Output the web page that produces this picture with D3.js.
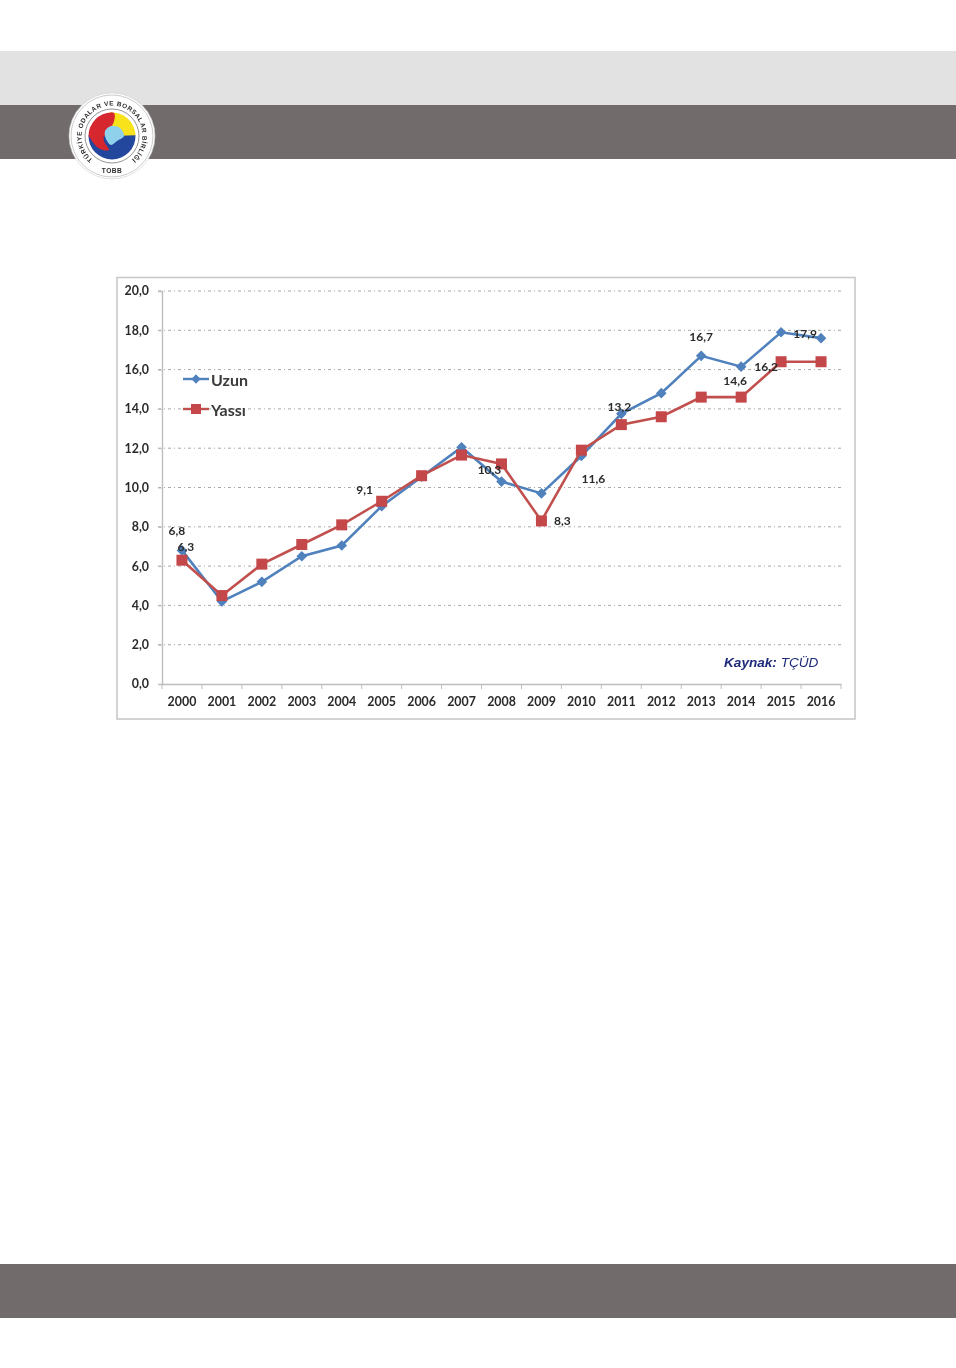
<!DOCTYPE html>
<html><head><meta charset="utf-8">
<script src="https://cdn.jsdelivr.net/npm/d3@7"></script>
<style>html,body{margin:0;padding:0;background:#fff}svg{display:block}</style>
</head><body><svg id="c" width="956" height="1368"></svg>
<script>
const years=[2000,2001,2002,2003,2004,2005,2006,2007,2008,2009,2010,2011,2012,2013,2014,2015,2016];
const uzun=[6.8,4.2,5.2,6.5,7.05,9.05,10.55,12.05,10.3,9.7,11.6,13.75,14.8,16.7,16.15,17.9,17.6];
const yassi=[6.3,4.5,6.1,7.1,8.1,9.3,10.6,11.65,11.2,8.3,11.9,13.2,13.6,14.6,14.6,16.4,16.4];
const yTicks=[0,2,4,6,8,10,12,14,16,18,20];
const seriesNames=["Uzun","Yassı"];
const labelYears=[2000,2000,2005,2008,2009,2010,2011,2013,2014,2014,2015];
const labelSeries=[0,1,0,0,1,0,1,0,1,0,0];
const labelTexts=["6,8","6,3","9,1","10,3","8,3","11,6","13,2","16,7","14,6","16,2","17,9"];
const source=["Kaynak:"," TÇÜD"];
const logoTop="TÜRKİYE ODALAR VE BORSALAR BİRLİĞİ";
const logoBottom="TOBB";

const svg=d3.select("#c");
const F="Lato, 'Open Sans', sans-serif";
const GREY="#716c6b";
svg.append("rect").attr("x",0).attr("y",51).attr("width",956).attr("height",54).attr("fill","#e3e2e3");
svg.append("rect").attr("x",0).attr("y",105).attr("width",956).attr("height",54).attr("fill",GREY);
svg.append("rect").attr("x",0).attr("y",1264).attr("width",956).attr("height",54).attr("fill",GREY);

const defs=svg.append("defs");
defs.append("filter").attr("id","soft").append("feGaussianBlur").attr("stdDeviation",0.45);

// logo
const lg=svg.append("g").attr("transform","translate(112,136)").attr("filter","url(#soft)");
lg.append("circle").attr("r",43).attr("fill","#fff").attr("stroke","#cfcfcf").attr("stroke-width",.6);
lg.append("circle").attr("r",41).attr("fill","none").attr("stroke","#999").attr("stroke-width",.5);
lg.append("circle").attr("r",27).attr("fill","none").attr("stroke","#666").attr("stroke-width",.7);
const arc=d3.arc();
const deg=Math.PI/180;
const sect=(r0,r1,a,b,col)=>lg.append("path").attr("d",arc({innerRadius:r0,outerRadius:r1,startAngle:a*deg,endAngle:b*deg})).attr("fill",col);
sect(0,23.5,-10,92,"#f8e21c");
sect(0,23.5,88,272,"#24479d");
sect(0,23.5,-92,0,"#d6252e");
lg.append("path").attr("d",d3.line().curve(d3.curveCatmullRomClosed)([[-23,-3],[-14,-18],[2,-23],[1,-12],[-7,-5],[-8,5],[-3,14],[-12,13],[-20,5]])).attr("fill","#d6252e");
lg.append("path").attr("d",d3.line().curve(d3.curveCatmullRomClosed)([[-1,-10],[8,-8],[12,0],[5,5],[-1,9],[-6,3],[-7,-5]])).attr("fill","#8fd0ea");
const arcPath=(r,a0,a1,sweep)=>{const p=a=>[r*Math.sin(a*deg),-r*Math.cos(a*deg)];const s=p(a0),e=p(a1);return `M${s}A${r},${r} 0 ${Math.abs(a1-a0)>180?1:0} ${sweep} ${e}`;};
lg.append("path").attr("id","lgTop").attr("fill","none").attr("d",arcPath(30.5,-140,140,1));
lg.append("text").attr("font-family","'Liberation Sans',sans-serif").attr("font-size",6.4).attr("font-weight",700).attr("fill","#2b2b2b").attr("letter-spacing",.55)
  .append("textPath").attr("href","#lgTop").attr("startOffset","50%").attr("text-anchor","middle").text(logoTop);
lg.append("text").attr("x",0).attr("y",37).attr("text-anchor","middle").attr("font-family","'Liberation Sans',sans-serif").attr("font-size",6.6).attr("font-weight",700).attr("fill","#2b2b2b").attr("letter-spacing",.5).text(logoBottom);

// chart
svg.append("rect").attr("x",117).attr("y",277.5).attr("width",738).attr("height",441.5).attr("fill","#fff").attr("stroke","#c9c9c9").attr("stroke-width",1.6);
const left=162,right=841,top0=291,bottom=684;
const x=d3.scaleBand().domain(years).range([left,right]);
const y=d3.scaleLinear().domain([0,20]).range([bottom,top0]);
const g=svg.append("g").attr("filter","url(#soft)");

g.append("g").selectAll("line").data(yTicks.filter(d=>d>0)).join("line")
 .attr("x1",left-4).attr("x2",right).attr("y1",d=>y(d)).attr("y2",d=>y(d))
 .attr("stroke","#a8a8a8").attr("stroke-width",1).attr("stroke-dasharray","3 3 1 3");

const yAxis=g.append("g").attr("transform",`translate(${left},0)`).call(d3.axisLeft(y).tickValues(yTicks).tickSize(4).tickPadding(9).tickFormat(d=>d3.format(".1f")(d).replace(".",",")));
const xAxis=g.append("g").attr("transform",`translate(0,${bottom})`).call(d3.axisBottom(x).tickSize(0).tickPadding(13));
for(const a of [yAxis,xAxis]){
  a.selectAll(".domain").attr("stroke","#bdbdbd").attr("stroke-width",1.4);
  a.selectAll("line").attr("stroke","#bdbdbd");
  a.selectAll("text").attr("font-family",F).attr("font-weight",700).attr("font-size",12.4).attr("fill","#2b2b2b");
}
xAxis.append("g").selectAll("line").data(years.concat(["end"])).join("line")
 .attr("x1",d=>d==="end"?right:x(d)).attr("x2",d=>d==="end"?right:x(d)).attr("y1",0).attr("y2",5).attr("stroke","#bdbdbd");

const BLUE="#4f81bd",RED="#c0504d";
const cx=d=>x(d)+x.bandwidth()/2;
const line=d3.line().x(d=>cx(d[0])).y(d=>y(d[1]));
const sU=years.map((d,i)=>[d,uzun[i]]), sY=years.map((d,i)=>[d,yassi[i]]);
g.append("path").attr("d",line(sU)).attr("fill","none").attr("stroke",BLUE).attr("stroke-width",2.6);
g.append("g").selectAll("path").data(sU).join("path")
 .attr("d",d3.symbol(d3.symbolDiamond2,72)).attr("transform",d=>`translate(${cx(d[0])},${y(d[1])})`).attr("fill",BLUE);
g.append("path").attr("d",line(sY)).attr("fill","none").attr("stroke",RED).attr("stroke-width",2.6);
g.append("g").selectAll("rect").data(sY).join("rect")
 .attr("x",d=>cx(d[0])-5.5).attr("y",d=>y(d[1])-5.5).attr("width",11).attr("height",11).attr("fill","#c4474a");

// data labels
const dx=[-5,4,-17,-12,21,12,-2,0,-6,25,24], dy=[-20,-14,-17,-12,0,22,-18,-19,-17,0,1];
g.append("g").selectAll("text").data(labelTexts).join("text")
 .attr("x",(d,i)=>cx(labelYears[i])+dx[i])
 .attr("y",(d,i)=>y((labelSeries[i]?yassi:uzun)[years.indexOf(labelYears[i])])+dy[i])
 .attr("dominant-baseline","central").attr("text-anchor","middle")
 .attr("font-family",F).attr("font-weight",700).attr("font-size",12).attr("fill","#2b2b2b").text(d=>d);

// legend
const lx=183,lyy=[379,409];
seriesNames.forEach((n,i)=>{
  const col=i?RED:BLUE;
  g.append("line").attr("x1",lx).attr("x2",lx+26).attr("y1",lyy[i]).attr("y2",lyy[i]).attr("stroke",col).attr("stroke-width",2.4);
  if(i) g.append("rect").attr("x",lx+8).attr("y",lyy[i]-5).attr("width",10).attr("height",10).attr("fill","#c4474a");
  else g.append("path").attr("d",d3.symbol(d3.symbolDiamond2,55)).attr("transform",`translate(${lx+13},${lyy[i]})`).attr("fill",col);
  g.append("text").attr("x",lx+28).attr("y",lyy[i]).attr("dominant-baseline","central").attr("font-family",F).attr("font-size",16).attr("font-weight",700).attr("fill","#3a3a3a").text(n);
});

// source
const st=g.append("text").attr("x",724).attr("y",667).attr("font-family","'Liberation Sans',sans-serif").attr("font-size",13.6).attr("font-style","italic").attr("fill","#1f2a7a");
st.append("tspan").attr("font-weight",700).text(source[0]);
st.append("tspan").text(source[1]);
</script></body></html>
